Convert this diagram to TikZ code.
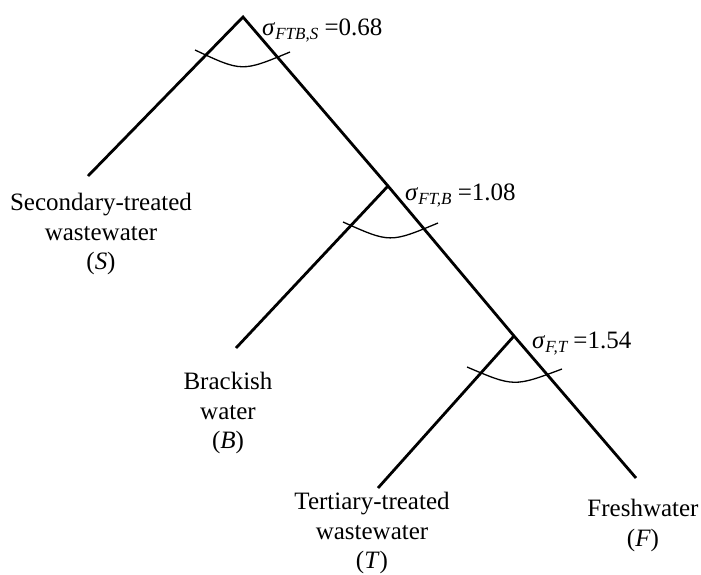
\documentclass[tikz,border=0pt]{standalone}
\usepackage{fontspec}
\setmainfont{Liberation Serif}
\newcommand\sgsub[1]{\raisebox{-4pt}{\fontsize{17}{17}\selectfont\itshape #1}}
\begin{document}
\begin{tikzpicture}[x=1pt,y=-1pt,
  branch/.style={line width=2.8pt},
  arcline/.style={line width=1.3pt},
  leaf/.style={align=center, inner sep=0pt, anchor=north, font=\fontsize{25}{29.5}\selectfont},
  sig/.style={anchor=base west, inner sep=0pt, font=\fontsize{25}{30}\selectfont}]
\useasboundingbox (0,0) rectangle (701,574);
\coordinate (top) at (243,17);
\coordinate (j1) at (388,186);
\coordinate (j2) at (514,336);
\coordinate (eS) at (88,176);
\coordinate (eB) at (236,348);
\coordinate (eT) at (378,488);
\coordinate (eF) at (636,478);
\draw[branch] (eS) -- (top) -- (j1) -- (j2) -- (eF);
\draw[branch] (j1) -- (eB);
\draw[branch] (j2) -- (eT);
\draw[arcline] (195,50) .. controls (242,72) .. (290,52);
\draw[arcline] (343,222) .. controls (390,243) .. (438,223);
\draw[arcline] (467,367) .. controls (514,387) .. (562,369);
\node[leaf] (S) at (101,193) {Secondary-treated\\wastewater\\(\textit{S})};
\node[leaf] (B) at (228,372) {Brackish\\water\\(\textit{B})};
\node[leaf] (T) at (372,492) {Tertiary-treated\\wastewater\\(\textit{T})};
\node[leaf] (F) at (643,499) {Freshwater\\(\textit{F})};
\node[sig] (l1) at (262,35) {\textit{σ}\sgsub{FTB,S} =0.68};
\node[sig] (l2) at (405,200) {\textit{σ}\sgsub{FT,B} =1.08};
\node[sig] (l3) at (532,348) {\textit{σ}\sgsub{F,T} =1.54};
\end{tikzpicture}
\end{document}
